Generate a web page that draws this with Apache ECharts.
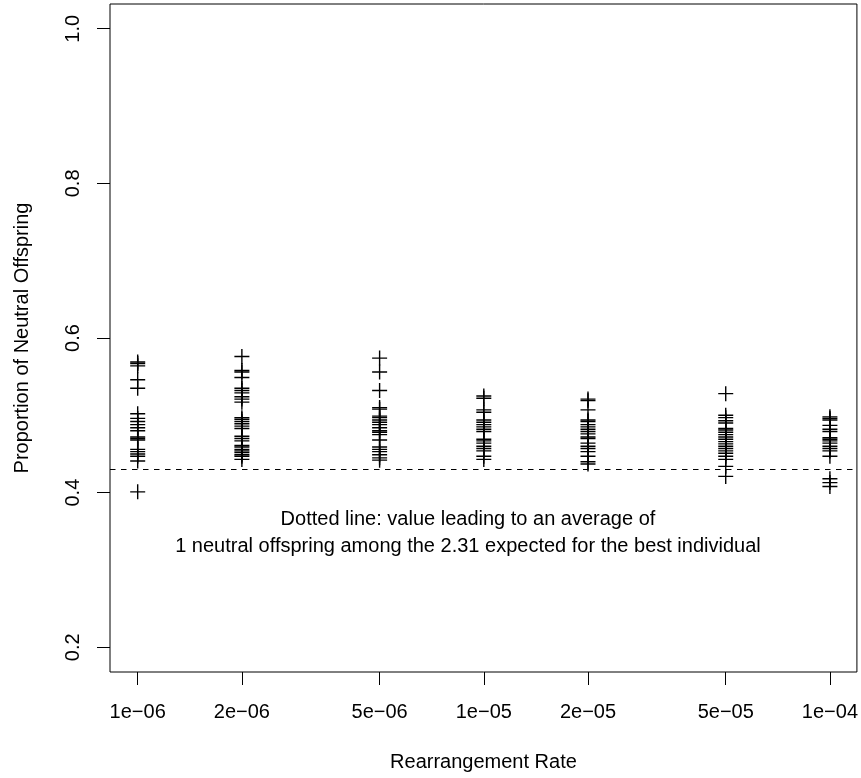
<!DOCTYPE html>
<html><head><meta charset="utf-8">
<script src="https://cdn.jsdelivr.net/npm/echarts@6/dist/echarts.min.js"></script>
<style>html,body{margin:0;padding:0;background:#fff}#c{width:861px;height:778px}</style>
</head><body><div id="c"></div>
<script>
// ---- data ----
const rates = [1e-6, 2e-6, 5e-6, 1e-5, 2e-5, 5e-5, 1e-4];
const rateTickLabels = ['1e\u221206','2e\u221206','5e\u221206','1e\u221205','2e\u221205','5e\u221205','1e\u221204'];
const yTicks = [0.2, 0.4, 0.6, 0.8, 1.0];
const yTickLabels = ['0.2', '0.4', '0.6', '0.8', '1.0'];
const neutral_1e06 = [0.569,0.567,0.564,0.546,0.535,0.502,0.496,0.492,0.488,0.484,0.480,0.472,0.470,0.468,0.456,0.453,0.450,0.447,0.441,0.401];
const neutral_2e06 = [0.576,0.558,0.556,0.549,0.535,0.532,0.529,0.524,0.521,0.517,0.497,0.495,0.492,0.489,0.486,0.483,0.473,0.470,0.467,0.461,0.459,0.456,0.454,0.452,0.449,0.447,0.443];
const neutral_5e06 = [0.574,0.556,0.532,0.510,0.508,0.499,0.497,0.494,0.491,0.488,0.484,0.480,0.478,0.475,0.468,0.459,0.456,0.453,0.449,0.445,0.442];
const neutral_1e05 = [0.525,0.522,0.507,0.504,0.494,0.491,0.488,0.485,0.482,0.479,0.469,0.467,0.464,0.460,0.457,0.454,0.447,0.443];
const neutral_2e05 = [0.521,0.519,0.507,0.494,0.492,0.488,0.485,0.482,0.479,0.476,0.472,0.470,0.464,0.460,0.457,0.453,0.447,0.440,0.437];
const neutral_5e05 = [0.528,0.500,0.497,0.493,0.490,0.483,0.481,0.478,0.475,0.472,0.469,0.466,0.463,0.460,0.457,0.454,0.451,0.447,0.443,0.434,0.421];
const neutral_1e04 = [0.498,0.496,0.494,0.487,0.482,0.479,0.471,0.469,0.467,0.464,0.460,0.457,0.454,0.447,0.418,0.413,0.408];
const dottedValue = 1 / 2.31;
const noteX = 9e-6, noteY = 0.348;
const noteText = 'Dotted line: value leading to an average of\n1 neutral offspring among the 2.31 expected for the best individual';

// ---- chart ----
const columns = [neutral_1e06, neutral_2e06, neutral_5e06, neutral_1e05, neutral_2e05, neutral_5e05, neutral_1e04];
const points = [];
columns.forEach((col, i) => col.forEach(v => points.push([Math.log10(rates[i]), v])));
const logTicks = rates.map(r => Math.log10(r));
const FONT = 'Liberation Sans, Arial, Helvetica, sans-serif';
const chart = echarts.init(document.getElementById('c'), null, {renderer: 'canvas'});
chart.setOption({
  animation: false,
  backgroundColor: '#fff',
  textStyle: {fontFamily: FONT, color: '#000'},
  grid: {left: 110, top: 4, right: 4, bottom: 106, show: true, borderColor: '#000', borderWidth: 1, backgroundColor: 'transparent'},
  xAxis: {
    type: 'value', min: -6.08, max: -3.922,
    axisLine: {show: false},
    splitLine: {show: false},
    axisTick: {show: true, inside: false, length: 13, lineStyle: {color: '#000', width: 1}, customValues: logTicks},
    axisLabel: {show: true, margin: 30, fontSize: 20, color: '#000', fontFamily: FONT, customValues: logTicks,
      formatter: v => { const i = logTicks.findIndex(t => Math.abs(t - v) < 1e-6); return i >= 0 ? rateTickLabels[i] : ''; }},
    name: 'Rearrangement Rate', nameLocation: 'middle', nameGap: 80,
    nameTextStyle: {fontSize: 20, color: '#000', fontFamily: FONT}
  },
  yAxis: {
    type: 'value', min: 0.168, max: 1.032,
    axisLine: {show: false},
    splitLine: {show: false},
    axisTick: {show: true, inside: false, length: 13, lineStyle: {color: '#000', width: 1}, customValues: yTicks},
    axisLabel: {show: true, rotate: 90, margin: 27, fontSize: 20, color: '#000', fontFamily: FONT, customValues: yTicks,
      formatter: v => { const i = yTicks.findIndex(t => Math.abs(t - v) < 1e-6); return i >= 0 ? yTickLabels[i] : ''; }},
    name: 'Proportion of Neutral Offspring', nameLocation: 'middle', nameGap: 78, nameRotate: 90,
    nameTextStyle: {fontSize: 20, color: '#000', fontFamily: FONT}
  },
  series: [{
    type: 'scatter',
    data: points,
    symbol: 'path://M1,0L1,2M0,1L2,1',
    symbolSize: 15,
    itemStyle: {color: 'rgba(0,0,0,0)', borderColor: '#000', borderWidth: 1.4, opacity: 1},
    emphasis: {disabled: true},
    markLine: {
      silent: true, symbol: 'none', label: {show: false},
      lineStyle: {color: '#000', type: [5.5, 5.5], width: 1},
      data: [{yAxis: dottedValue}]
    }
  }]
});
const p = chart.convertToPixel({gridIndex: 0}, [Math.log10(noteX), noteY]);
chart.setOption({
  graphic: [{
    type: 'text', x: p[0], y: p[1],
    style: {text: noteText, font: '20px ' + FONT, fill: '#000', align: 'center', verticalAlign: 'middle', lineHeight: 27}
  }]
});
</script></body></html>
